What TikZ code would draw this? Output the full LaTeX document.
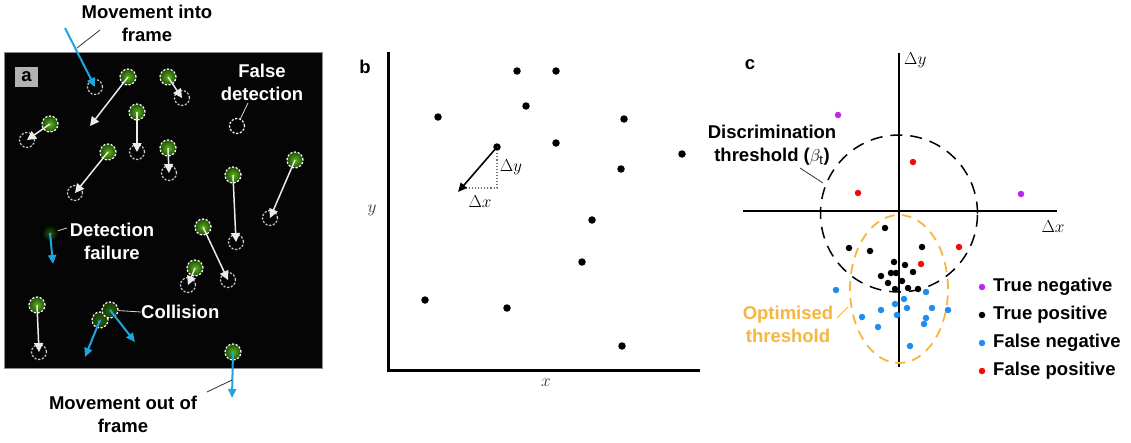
\documentclass[tikz,border=0pt]{standalone}
\usepackage{fontspec}
\setmainfont{Liberation Sans}
\usetikzlibrary{arrows.meta,shapes.geometric}
\definecolor{skyb}{RGB}{30,165,225}
\definecolor{gdark}{RGB}{30,80,8}
\definecolor{glight}{RGB}{95,180,30}
\definecolor{orng}{RGB}{247,182,62}
\definecolor{purp}{RGB}{185,40,235}
\definecolor{fnblue}{RGB}{30,140,240}
\definecolor{fpred}{RGB}{240,10,10}
\begin{document}
\begin{tikzpicture}[x=1pt,y=-1pt,
  lab/.style={font=\fontsize{18.5}{23}\selectfont\bfseries, align=center, inner sep=0pt},
  mathlab/.style={font=\fontsize{18}{20}\selectfont, inner sep=0pt},
  gdot/.style={circle, minimum size=16pt, inner sep=0pt, draw=white, dash pattern=on 2.2pt off 1.6pt, line width=1.2pt, inner color=glight, outer color=gdark},
  gdim/.style={gdot, inner color=gdark!80!glight, outer color=gdark!70!black},
  endc/.style={circle, minimum size=15pt, inner sep=0pt, draw=white!80!black, dash pattern=on 2.2pt off 1.6pt, line width=1.2pt},
  warr/.style={draw=white!92!black, line width=1.5pt, -{Triangle[length=9pt,width=9pt]}},
  barr/.style={draw=skyb, line width=2pt, -{Triangle[length=9pt,width=8pt]}},
  wann/.style={draw=white!85!black, line width=0.8pt},
  kann/.style={draw=black!80, line width=0.8pt},
  pdot/.style={circle, fill=black, minimum size=7.5pt, inner sep=0pt},
  cdot/.style={circle, minimum size=6.5pt, inner sep=0pt},
  tn/.style={cdot, fill=purp},
  tp/.style={cdot, fill=black},
  fn/.style={cdot, fill=fnblue},
  fp/.style={cdot, fill=fpred}]
\fill[white] (0,0) rectangle (1131,442);
\useasboundingbox (0,0) rectangle (1131,442);

% ---------------- panel a ----------------
\draw[draw=black!45, fill=black!98, line width=0.8pt] (4,52) rectangle (322,368);
\node[fill=black!30, minimum width=23pt, minimum height=20pt, inner sep=0pt, font=\fontsize{18.5}{20}\selectfont\bfseries] (la) at (26.5,77) {a};

\node[gdot] (g1) at (128,77) {};
\coordinate (t1) at (90,126);
\node[gdot] (g2) at (168,77) {};   \node[endc] (e2) at (182,98) {};
\node[gdot] (g3) at (50,124) {};   \node[endc] (e3) at (27,140) {};
\node[gdot] (g4) at (137,112) {};  \node[endc] (e4) at (137,152) {};
\node[gdot] (g5) at (168,148) {};  \node[endc] (e5) at (169,173) {};
\node[gdot] (g6) at (108,152) {};  \node[endc] (e6) at (75,193) {};
\node[endc, draw=white] (fd) at (237,126) {};
\node[gdot] (g8) at (233,175) {};  \node[endc] (e8) at (236,242) {};
\node[gdot] (g9) at (295,160) {};  \node[endc] (e9) at (270,218) {};
\node[gdot] (g10) at (203,227) {}; \node[endc] (e10) at (228,280) {};
\node[gdot] (g11) at (195,268) {}; \node[endc] (e11) at (188,285) {};
\node[gdot] (g14) at (37,305) {};  \node[endc] (e14) at (39,352) {};
\node[gdot] (g12) at (233,352) {};
\coordinate (t12) at (232,398);
\node[circle, minimum size=16pt, inner sep=0pt, inner color=gdark!90!glight, outer color=black!98] (df) at (50,233) {};
\coordinate (tdf) at (53,264);
\node[endc] (em) at (95,87) {};
\coordinate (sem) at (65,28);
\node[gdim] (gc2) at (100,320) {};
\node[gdim] (gc1) at (110,310) {};
\coordinate (tc1) at (135,342);
\coordinate (tc2) at (85,357);

\draw[warr] (g1.center) -- (t1);
\foreach \i in {2,3,4,5,6,8,9,10,11,14} {\draw[warr] (g\i.center) -- (e\i.center);}
\draw[barr] (g12.center) -- (t12);
\draw[barr] (df.center) -- (tdf);
\draw[barr] (sem) -- (em.center);
\draw[barr] (gc1.center) -- (tc1);
\draw[barr] (gc2.center) -- (tc2);

\node[lab] (mif) at (147,23.5) {Movement into\\frame};
\coordinate (mifa) at (100,30); \coordinate (mifb) at (77,48);
\draw[kann] (mifa) -- (mifb);
\node[lab, text=white] (fdt) at (262,82) {False\\detection};
\coordinate (fda) at (248,103);
\draw[wann] (fda) -- (fd);
\node[lab, text=white] (dft) at (112,241) {Detection\\failure};
\coordinate (dfa) at (67,228);
\draw[wann] (dfa) -- (df);
\node[lab, text=white, anchor=west] (colt) at (141,312) {Collision};
\draw[wann] (colt.west) -- (gc1);
\node[lab] (mof) at (123,414) {Movement out of\\frame};
\coordinate (mofa) at (207,392); \coordinate (mofb) at (232,380);
\draw[kann] (mofa) -- (mofb);

% ---------------- panel b ----------------
\node[lab] (lb) at (365,67) {b};
\coordinate (bo) at (388,370);
\draw[line width=3pt] (388,52) -- (bo) -- (700,370);
\node[mathlab, text=black!80] (ylab) at (372,210) {$y$};
\node[mathlab, text=black!80] (xlab) at (546,383) {$x$};
\node[pdot] (b1) at (517,71) {};
\node[pdot] (b2) at (556,71) {};
\node[pdot] (b3) at (526,106) {};
\node[pdot] (b4) at (438,117) {};
\node[pdot] (b5) at (624,119) {};
\node[pdot] (b6) at (556,143) {};
\node[pdot] (b7) at (497,147) {};
\node[pdot] (b8) at (682,154) {};
\node[pdot] (b9) at (621,169) {};
\node[pdot] (b10) at (592,220) {};
\node[pdot] (b11) at (582,262) {};
\node[pdot] (b12) at (425,300) {};
\node[pdot] (b13) at (507,308) {};
\node[pdot] (b14) at (622,346) {};
\coordinate (bt) at (458,192);
\coordinate (bc) at (497,188);
\draw[dotted, line width=1.1pt, black!55] (b7.center) -- (bc) -- (461,188);
\draw[line width=1.6pt, -{Triangle[length=9pt,width=8pt]}] (b7.center) -- (bt);
\node[mathlab] (dyl) at (511,167) {$\Delta y$};
\node[mathlab] (dxl) at (480,202) {$\Delta x$};

% ---------------- panel c ----------------
\node[lab] (lc) at (750,65) {c};
\coordinate (co) at (899,211);
\draw[line width=1.5pt] (899,53) -- (899,367);
\draw[line width=1.5pt] (743,211) -- (1057,211);
\node[mathlab, anchor=west] (dyc) at (904,60) {$\Delta y$};
\node[mathlab] (dxc) at (1053,227) {$\Delta x$};
\draw[line width=1.5pt, dash pattern=on 12pt off 8pt] (899,213.5) circle (78.5pt);
\draw[orng, line width=1.8pt, dash pattern=on 10pt off 7pt] (899,289) ellipse [x radius=49pt, y radius=74pt];

\node[lab] (dtt) at (772,145.5) {Discrimination\\threshold ($\beta_{\mathrm{t}}$)};
\coordinate (dta) at (800,168); \coordinate (dtb) at (823,183);
\draw[kann] (dta) -- (dtb);
\node[lab, text=orng] (ott) at (788,324) {Optimised\\threshold};
\coordinate (ota) at (837,318); \coordinate (otb) at (848,307);
\draw[orng, line width=0.9pt] (ota) -- (otb);

% points
\node[tn] at (838,115) {};
\node[tn] at (1021,194) {};
\node[fp] at (913,162) {};
\node[fp] at (858,193) {};
\node[fp] at (921,264) {};
\node[fp] at (959,247) {};
\foreach \p in {(885,228),(849,248),(870,251),(922,247),(894,262),(905,265),(913,272),(891,273),(896,273),(881,276),(902,281),(888,283),(895,289),(908,288),(918,289)}
  {\node[tp] at \p {};}
\foreach \p in {(836,290),(926,292),(904,299),(895,304),(881,310),(907,308),(932,308),(948,310),(897,315),(862,317),(926,318),(878,327),(924,324),(910,346)}
  {\node[fn] at \p {};}

% legend
\node[tn] (k1) at (982,287) {};
\node[tp] (k2) at (982,315) {};
\node[fn] (k3) at (982,343) {};
\node[fp] (k4) at (982,371) {};
\node[lab, anchor=west] (k1t) at (993,287) {True negative};
\node[lab, anchor=west] (k2t) at (993,315) {True positive};
\node[lab, anchor=west] (k3t) at (993,343) {False negative};
\node[lab, anchor=west] (k4t) at (993,371) {False positive};
\end{tikzpicture}
\end{document}
